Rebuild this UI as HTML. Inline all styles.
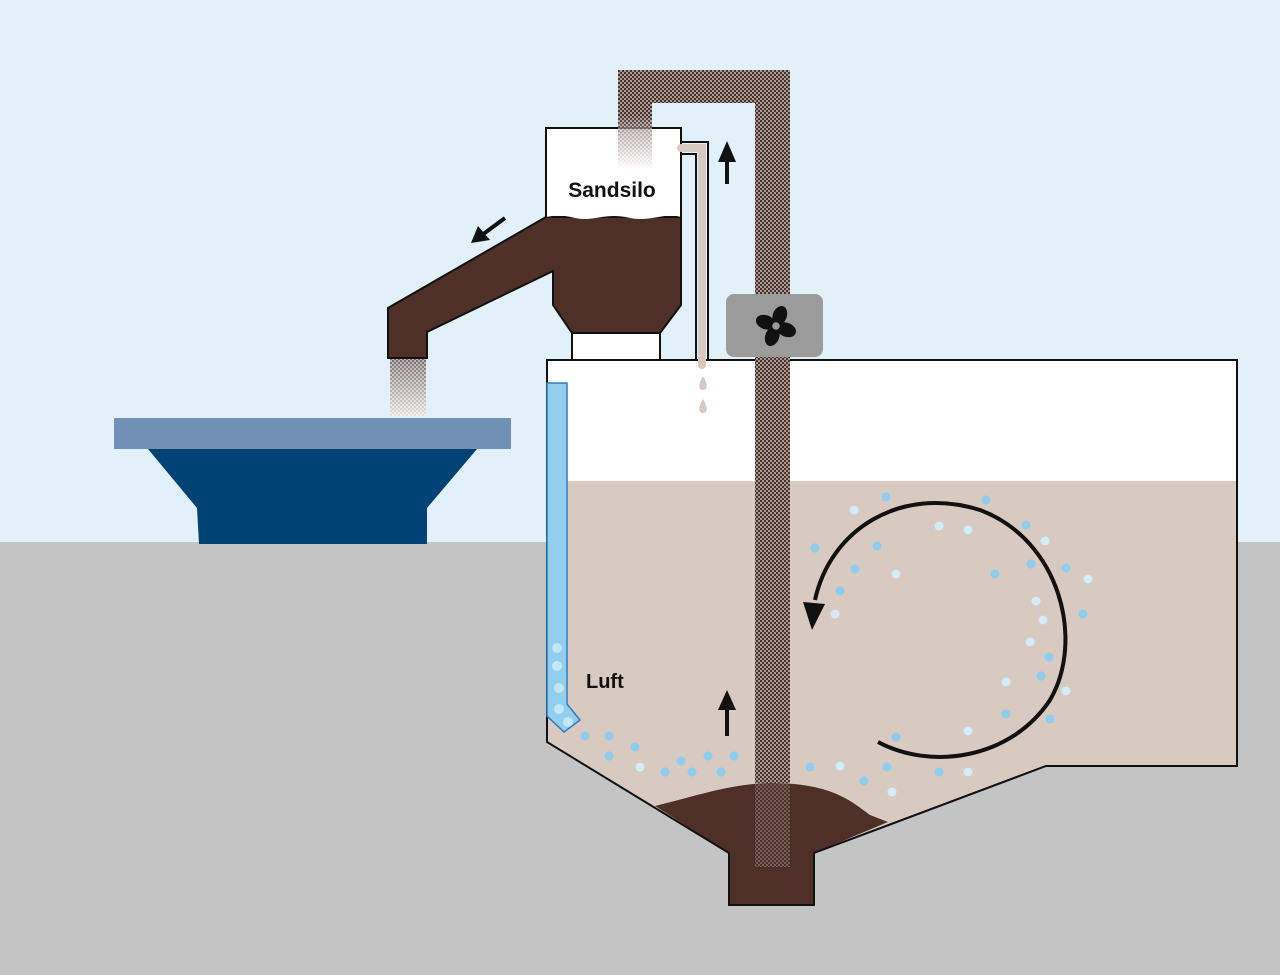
<!DOCTYPE html>
<html><head><meta charset="utf-8"><style>html,body{margin:0;padding:0;width:1280px;height:975px;overflow:hidden}</style></head><body>
<svg width="1280" height="975" viewBox="0 0 1280 975" xmlns="http://www.w3.org/2000/svg">
<defs>
<pattern id="ck" width="4" height="4" patternUnits="userSpaceOnUse">
<rect width="4" height="4" fill="#a39c99"/><rect width="2" height="2" fill="#4f3028"/><rect x="2" y="2" width="2" height="2" fill="#4f3028"/>
</pattern>
<linearGradient id="fade" x1="0" y1="0" x2="0" y2="1"><stop offset="0" stop-color="#fff" stop-opacity="0"/><stop offset="1" stop-color="#fff" stop-opacity="1"/></linearGradient>
</defs>
<rect width="1280" height="975" fill="#e2f0f9"/>
<rect y="542" width="1280" height="433" fill="#c4c4c4"/>
<polygon points="148,449 477,449 427,508 427,544 199,544 197,508" fill="#004374"/>
<rect x="114" y="418" width="397" height="31" fill="#7290b5"/>
<rect x="390" y="358" width="36" height="58" fill="url(#ck)" opacity="0.7"/>
<rect x="390" y="358" width="36" height="58" fill="url(#fade)" opacity="0.8"/>
<polygon points="547,360 1237,360 1237,766 1046,766 814,853 814,905 729,905 729,853 547,742" fill="#fff"/>
<polygon points="547,481 1237,481 1237,766 1046,766 814,853 814,905 729,905 729,853 547,742" fill="#d8c9c1"/>
<path d="M655,806 C700,795 730,784 770,783 C830,783 850,800 870,815 L888,822 L814,853 L814,905 L729,905 L729,853 Z" fill="#4f3028"/>
<polygon points="547,360 1237,360 1237,766 1046,766 814,853 814,905 729,905 729,853 547,742" fill="none" stroke="#111" stroke-width="2"/>
<polygon points="547,383 567,383 567,704 580,720 564,732 547,716" fill="#92cfee" stroke="#2f7fb8" stroke-width="1.5"/>
<g fill="#c4e6f7"><circle cx="557" cy="648" r="5"/><circle cx="557" cy="666" r="5"/><circle cx="559" cy="688" r="5"/><circle cx="559" cy="709" r="5"/><circle cx="568" cy="722" r="5"/></g>
<g fill="#8dcdef">
<circle cx="585" cy="736" r="4.5"/><circle cx="609" cy="736" r="4.5"/><circle cx="609" cy="756" r="4.5"/><circle cx="635" cy="747" r="4.5"/><circle cx="665" cy="772" r="4.5"/><circle cx="681" cy="761" r="4.5"/><circle cx="692" cy="772" r="4.5"/><circle cx="708" cy="756" r="4.5"/><circle cx="721" cy="772" r="4.5"/><circle cx="734" cy="756" r="4.5"/>
<circle cx="810" cy="767" r="4.5"/><circle cx="864" cy="781" r="4.5"/><circle cx="887" cy="767" r="4.5"/><circle cx="896" cy="737" r="4.5"/><circle cx="939" cy="772" r="4.5"/><circle cx="1050" cy="719" r="4.5"/><circle cx="1006" cy="714" r="4.5"/><circle cx="1041" cy="676" r="4.5"/><circle cx="1049" cy="657" r="4.5"/><circle cx="1083" cy="614" r="4.5"/><circle cx="1066" cy="568" r="4.5"/><circle cx="1031" cy="564" r="4.5"/><circle cx="995" cy="574" r="4.5"/><circle cx="1026" cy="525" r="4.5"/><circle cx="986" cy="500" r="4.5"/><circle cx="886" cy="497" r="4.5"/><circle cx="877" cy="546" r="4.5"/><circle cx="855" cy="569" r="4.5"/><circle cx="815" cy="548" r="4.5"/><circle cx="840" cy="591" r="4.5"/>
</g>
<g fill="#d3ecf9">
<circle cx="640" cy="767" r="4.5"/><circle cx="840" cy="766" r="4.5"/><circle cx="892" cy="792" r="4.5"/><circle cx="968" cy="772" r="4.5"/><circle cx="968" cy="731" r="4.5"/><circle cx="1066" cy="691" r="4.5"/><circle cx="1006" cy="682" r="4.5"/><circle cx="1030" cy="642" r="4.5"/><circle cx="1043" cy="620" r="4.5"/><circle cx="1036" cy="601" r="4.5"/><circle cx="1088" cy="579" r="4.5"/><circle cx="1045" cy="541" r="4.5"/><circle cx="968" cy="530" r="4.5"/><circle cx="939" cy="526" r="4.5"/><circle cx="854" cy="510" r="4.5"/><circle cx="896" cy="574" r="4.5"/><circle cx="835" cy="614" r="4.5"/>
</g>
<path d="M878,742 C930,770 1010,760 1050,700 C1085,640 1060,540 980,510 C900,485 830,530 815,600" fill="none" stroke="#111" stroke-width="4"/>
<polygon points="803,602 825,604 812,630" fill="#111"/>
<rect x="725" y="708" width="4" height="28" fill="#111"/><polygon points="718,710 736,710 727,690" fill="#111"/>
<rect x="725" y="160" width="4" height="24" fill="#111"/><polygon points="718,162 736,162 727,141" fill="#111"/>
<line x1="505" y1="218" x2="482" y2="235" stroke="#111" stroke-width="4"/>
<polygon points="471,243 478,226 490,240" fill="#111"/>
<rect x="755" y="70" width="35" height="713" fill="url(#ck)"/>
<rect x="755" y="783" width="35" height="84" fill="url(#ck)" opacity="0.45"/>
<rect x="618" y="70" width="172" height="33" fill="url(#ck)"/>
<rect x="618" y="70" width="34" height="60" fill="url(#ck)"/>
<polygon points="546,217 388,308 388,358 427,358 427,332 553,271 553,305 572,333 660,333 681,305 681,217" fill="#4f3028" stroke="#111" stroke-width="2"/>
<path d="M546,128 L681,128 L681,217 C665,212 650,222 630,218 C605,212 595,222 575,218 C560,214 552,216 546,217 Z" fill="#fff"/>
<path d="M546,217 L546,128 L681,128 L681,217" fill="none" stroke="#111" stroke-width="2"/>
<rect x="572" y="333" width="88" height="27" fill="#fff" stroke="#111" stroke-width="2"/>
<rect x="618" y="115" width="34" height="55" fill="url(#ck)" opacity="0.6"/>
<rect x="618" y="115" width="34" height="55" fill="url(#fade)"/>
<path d="M681,142 L708,142 L708,360 M681,154 L696,154 L696,360" fill="none" stroke="#111" stroke-width="2"/>
<path d="M681,148 L702,148 L702,365" fill="none" stroke="#d8c9c1" stroke-width="8" stroke-linecap="round"/>
<path d="M703,376 C698,384 698,390 703,390 C708,390 708,384 703,376Z M703,399 C698,407 698,413 703,413 C708,413 708,407 703,399Z" fill="#d8c9c1"/>
<rect x="726" y="294" width="97" height="63" rx="8" fill="#9b9b9b"/>
<g transform="translate(776,326)" fill="#111">
<ellipse cx="0" cy="-11" rx="7" ry="10" transform="rotate(20)"/><ellipse cx="0" cy="-11" rx="7" ry="10" transform="rotate(110)"/><ellipse cx="0" cy="-11" rx="7" ry="10" transform="rotate(200)"/><ellipse cx="0" cy="-11" rx="7" ry="10" transform="rotate(290)"/>
<circle r="4.5" fill="#9b9b9b" stroke="#111" stroke-width="1.5"/>
</g>
<text x="612" y="197" font-family="Liberation Sans, sans-serif" font-weight="bold" font-size="21" text-anchor="middle" fill="#111">Sandsilo</text>
<text x="586" y="688" font-family="Liberation Sans, sans-serif" font-weight="bold" font-size="20" fill="#111">Luft</text>
</svg>
</body></html>
